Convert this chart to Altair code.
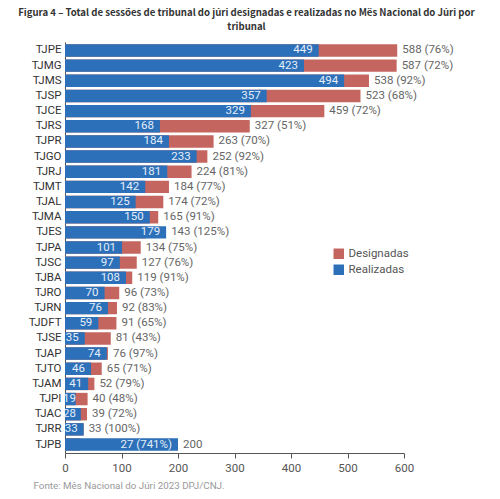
import altair as alt
import pandas as pd

# Tribunais, ordered as in the figure (top to bottom)
tribunais = ["TJPE", "TJMG", "TJMS", "TJSP", "TJCE", "TJRS", "TJPR", "TJGO", "TJRJ",
             "TJMT", "TJAL", "TJMA", "TJES", "TJPA", "TJSC", "TJBA", "TJRO", "TJRN",
             "TJDFT", "TJSE", "TJAP", "TJTO", "TJAM", "TJPI", "TJAC", "TJRR", "TJPB"]
designadas = [588, 587, 538, 523, 459, 327, 263, 252, 224, 184, 174, 165, 143, 134,
              127, 119, 96, 92, 91, 81, 76, 65, 52, 40, 39, 33, 27]
realizadas = [449, 423, 494, 357, 329, 168, 184, 233, 181, 142, 125, 150, 179, 101,
              97, 108, 70, 76, 59, 35, 74, 46, 41, 19, 28, 33, 200]
# labels as printed in the figure (TJPB is printed the other way round)
rotulo_dentro = ["449", "423", "494", "357", "329", "168", "184", "233", "181", "142",
                 "125", "150", "179", "101", "97", "108", "70", "76", "59", "35", "74",
                 "46", "41", "19", "28", "33", "27 (741%)"]
rotulo_fora = ["588 (76%)", "587 (72%)", "538 (92%)", "523 (68%)", "459 (72%)",
               "327 (51%)", "263 (70%)", "252 (92%)", "224 (81%)", "184 (77%)",
               "174 (72%)", "165 (91%)", "143 (125%)", "134 (75%)", "127 (76%)",
               "119 (91%)", "96 (73%)", "92 (83%)", "91 (65%)", "81 (43%)", "76 (97%)",
               "65 (71%)", "52 (79%)", "40 (48%)", "39 (72%)", "33 (100%)", "200"]

FONT = "Roboto"
FONT_TITULO = "Noto Sans CJK SC"
AZUL = "#2b70b9"
VERMELHO = "#c4665f"

df = pd.DataFrame({
    "tribunal": tribunais,
    "Designadas": designadas,
    "Realizadas": realizadas,
    "dentro": rotulo_dentro,
    "fora": rotulo_fora,
})
df["fim"] = df[["Designadas", "Realizadas"]].max(axis=1)

df_long = df.melt(id_vars=["tribunal"], value_vars=["Designadas", "Realizadas"],
                  var_name="serie", value_name="valor")
df_long["ord"] = (df_long["serie"] == "Realizadas").astype(int)

y_enc = alt.Y("tribunal:N", sort=tribunais, title=None,
              scale=alt.Scale(paddingInner=0.18, paddingOuter=0.15),
              axis=alt.Axis(ticks=False, labelPadding=4, labelFontSize=11.5,
                            labelColor="#333", domainColor="#555"))

bars = alt.Chart(df_long).mark_bar().encode(
    x=alt.X("valor:Q", stack=False,
            scale=alt.Scale(domain=[0, 600], nice=False),
            axis=alt.Axis(values=[0, 100, 200, 300, 400, 500, 600], grid=False,
                          labelFlush=False,
                          labelFontSize=11.5, labelColor="#555", tickColor="#555",
                          domainColor="#555", tickSize=5, labelPadding=4,
                          title="Fonte: Mês Nacional do Júri 2023 DPJ/CNJ.",
                          titleFontSize=9.8, titleColor="#999", titleFontWeight="normal",
                          titleAnchor="start", titleAlign="left", titleX=-32, titleY=32,
                          titleBaseline="middle")),
    y=y_enc,
    color=alt.Color("serie:N",
                    scale=alt.Scale(domain=["Designadas", "Realizadas"], range=[VERMELHO, AZUL]),
                    legend=alt.Legend(title=None, orient="none", legendX=268, legendY=206,
                                      labelFontSize=11.5, labelColor="#555",
                                      symbolType="square", symbolSize=110,
                                      symbolStrokeWidth=0, rowPadding=3)),
    order=alt.Order("ord:Q"),
)

texto_dentro = alt.Chart(df).transform_calculate(
    pos="max(datum.Realizadas, 30)"
).mark_text(align="right", baseline="middle", dx=-6, fontSize=11.5,
            color="#e6eef8", font=FONT).encode(
    x="pos:Q",
    y=alt.Y("tribunal:N", sort=tribunais),
    text="dentro:N",
)

texto_fora = alt.Chart(df).mark_text(align="left", baseline="middle", dx=5, fontSize=11.5,
                                     color="#666", font=FONT).encode(
    x="fim:Q",
    y=alt.Y("tribunal:N", sort=tribunais),
    text="fora:N",
)

chart = (bars + texto_dentro + texto_fora).properties(
    width=339,
    height=411,
    autosize=alt.AutoSizeParams(type="none"),
    padding={"left": 57, "top": 34, "right": 88, "bottom": 37},
    title=alt.TitleParams(
        ["Figura 4 – Total de sessões de tribunal do júri designadas e realizadas no Mês Nacional do Júri por",
         "tribunal"],
        font=FONT_TITULO, fontSize=9.6, fontWeight="bold", color="#333",
        anchor="middle", frame="group", dx=12, offset=10, lineHeight=14,
    ),
).configure(font=FONT).configure_view(stroke=None)

chart.save("out.html", embed_options={"renderer": "svg", "actions": False})
